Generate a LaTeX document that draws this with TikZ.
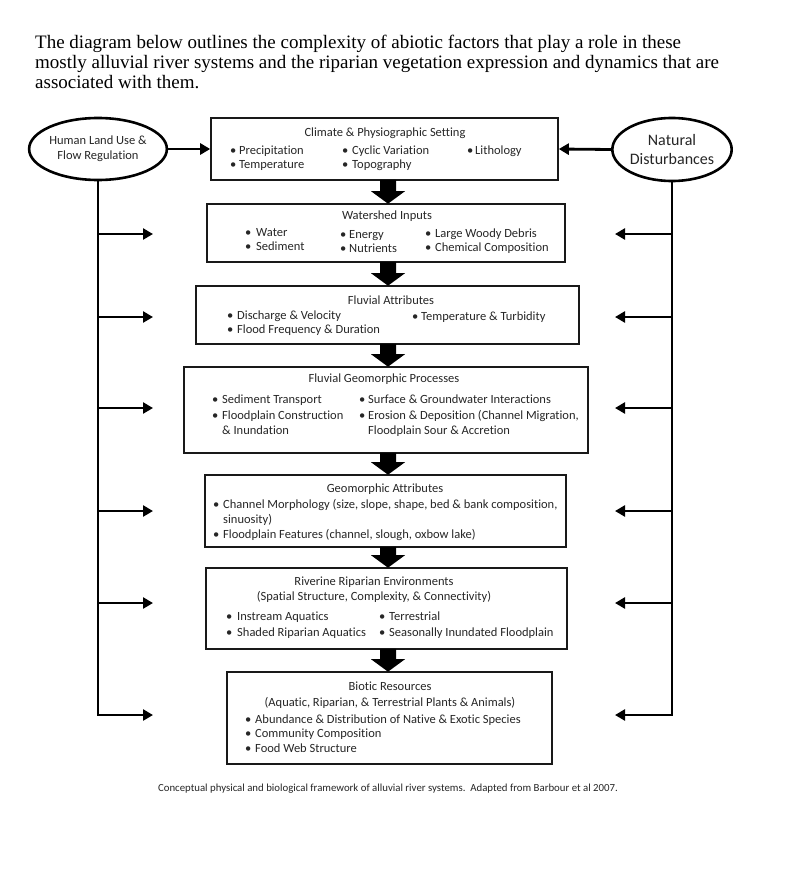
\documentclass[tikz,border=0pt]{standalone}
\usepackage{fontspec}
\setmainfont{Liberation Serif}
\newfontfamily\calfont[Ligatures=NoCommon]{Carlito}
\usetikzlibrary{shapes.geometric,arrows.meta,calc}
\tikzset{
  box/.style={draw=black!90, line width=1.6pt, inner sep=0pt, rectangle},
  ell/.style={draw=black, line width=2.6pt, ellipse, inner sep=0pt, minimum width=113pt, minimum height=62pt, align=center},
  txt/.style={anchor=west, inner sep=0pt, text height=9pt, text depth=2pt, font=\calfont\fontsize{12.5pt}{14pt}\selectfont, text=black!85},
  ttl/.style={anchor=center, inner sep=0pt, text height=9pt, text depth=2pt, font=\calfont\fontsize{12.5pt}{14pt}\selectfont, text=black!85},
  para/.style={anchor=west, inner sep=0pt, text height=13pt, text depth=4pt, font=\fontsize{19pt}{20pt}\selectfont},
  conn/.style={draw=black, line width=2.8pt, -{Triangle[length=10pt,width=11pt]}},
  blk/.style={fill=black}
}
\newcommand{\bitem}[5]{%
  \node[txt] (#1b) at (#2,#4) {\textbullet};
  \node[txt] (#1) at (#3,#4) {#5};}
\newcommand{\blockarrow}[2]{%
  \fill[blk] ($(#1.south -| ax)+(-8,-1)$) -- ($(#1.south -| ax)+(8,-1)$)
    -- ($(#2.north -| ax)+(8,-12)$) -- ($(#2.north -| ax)+(17,-12)$)
    -- ($(#2.north -| ax)+(0,0.5)$) -- ($(#2.north -| ax)+(-17,-12)$)
    -- ($(#2.north -| ax)+(-8,-12)$) -- cycle;}
\begin{document}
\begin{tikzpicture}[x=1pt,y=-1pt]
\useasboundingbox[fill=white] (0,0) rectangle (800,891);
\coordinate (ax) at (388,0);

% intro paragraph
\node[para] (p1) at (35,44) {The diagram below outlines the complexity of abiotic factors that play a role in these};
\node[para] (p2) at (35,64) {mostly alluvial river systems and the riparian vegetation expression and dynamics that are};
\node[para] (p3) at (35,84) {associated with them.};

% boxes
\node[box, minimum width=347pt, minimum height=62pt] (b1) at (384.5,149) {};
\node[box, minimum width=358pt, minimum height=58pt] (b2) at (386,233) {};
\node[box, minimum width=383pt, minimum height=58pt] (b3) at (387.5,315) {};
\node[box, minimum width=404pt, minimum height=86pt] (b4) at (386,410) {};
\node[box, minimum width=361pt, minimum height=72pt] (b5) at (385.5,511) {};
\node[box, minimum width=361pt, minimum height=81pt] (b6) at (386.5,608.5) {};
\node[box, minimum width=325pt, minimum height=92pt] (b7) at (389.5,718) {};

% box 1
\node[ttl] (t1) at (385,133) {Climate \& Physiographic Setting};
\bitem{i11}{230}{239}{151}{Precipitation}
\bitem{i12}{230}{239}{165}{Temperature}
\bitem{i13}{342}{352}{151}{Cyclic Variation}
\bitem{i14}{342}{352}{165}{Topography}
\bitem{i15}{467}{475}{151}{Lithology}

% box 2
\node[ttl] (t2) at (387,216) {Watershed Inputs};
\bitem{i21}{245}{256}{233}{Water}
\bitem{i22}{245}{256}{247}{Sediment}
\bitem{i23}{340}{349}{235}{Energy}
\bitem{i24}{340}{349}{249}{Nutrients}
\bitem{i25}{425}{435}{234}{Large Woody Debris}
\bitem{i26}{425}{435}{248}{Chemical Composition}

% box 3
\node[ttl] (t3) at (391,301) {Fluvial Attributes};
\bitem{i31}{227}{237}{316}{Discharge \& Velocity}
\bitem{i32}{227}{237}{330}{Flood Frequency \& Duration}
\bitem{i33}{412}{421}{317}{Temperature \& Turbidity}

% box 4
\node[ttl] (t4) at (384,379) {Fluvial Geomorphic Processes};
\bitem{i41}{212}{222}{400}{Sediment Transport}
\bitem{i42}{212}{222}{416}{Floodplain Construction}
\node[txt] (i43) at (222,431) {\& Inundation};
\bitem{i44}{359}{368}{400}{Surface \& Groundwater Interactions}
\bitem{i45}{359}{368}{416}{Erosion \& Deposition (Channel Migration,}
\node[txt] (i46) at (368,431) {Floodplain Sour \& Accretion};

% box 5
\node[ttl] (t5) at (385,489) {Geomorphic Attributes};
\bitem{i51}{213}{223}{505}{Channel Morphology (size, slope, shape, bed \& bank composition,}
\node[txt] (i52) at (223,520) {sinuosity)};
\bitem{i53}{213}{223}{535}{Floodplain Features (channel, slough, oxbow lake)};

% box 6
\node[ttl] (t6) at (374,582) {Riverine Riparian Environments};
\node[ttl] (t6b) at (374,597) {(Spatial Structure, Complexity, \& Connectivity)};
\bitem{i61}{226}{237}{617}{Instream Aquatics}
\bitem{i62}{226}{237}{633}{Shaded Riparian Aquatics}
\bitem{i63}{379}{389}{617}{Terrestrial}
\bitem{i64}{379}{389}{633}{Seasonally Inundated Floodplain}

% box 7
\node[ttl] (t7) at (390,687) {Biotic Resources};
\node[ttl] (t7b) at (390,703) {(Aquatic, Riparian, \& Terrestrial Plants \& Animals)};
\bitem{i71}{245}{255}{720}{Abundance \& Distribution of Native \& Exotic Species}
\bitem{i72}{245}{255}{734}{Community Composition}
\bitem{i73}{245}{255}{749}{Food Web Structure}

% block arrows
\blockarrow{b1}{b2}
\blockarrow{b2}{b3}
\blockarrow{b3}{b4}
\blockarrow{b4}{b5}
\blockarrow{b5}{b6}
\blockarrow{b6}{b7}

% ellipses
\node[ell, font=\calfont\fontsize{12.5pt}{15pt}\selectfont, text=black!85] (e1) at (98,149) {Human Land Use \&\\Flow Regulation};
\node[ell, minimum height=63pt, font=\calfont\fontsize{16pt}{19pt}\selectfont, text=black!85] (e2) at (672,149.5) {Natural\\Disturbances};

\draw[conn] (e1.east) -- (b1.west);
\draw[conn] (e2.west) -- (b1.east);

% branch tips
\coordinate (l1) at (153,234);
\coordinate (l2) at (153,317);
\coordinate (l3) at (153,408);
\coordinate (l4) at (153,511);
\coordinate (l5) at (153,603);
\coordinate (l6) at (153,715);
\coordinate (r1) at (615,234);
\coordinate (r2) at (615,317);
\coordinate (r3) at (615,408);
\coordinate (r4) at (615,511);
\coordinate (r5) at (615,603);
\coordinate (r6) at (615,715);

\draw[conn] (e1.south) -- (e1.south |- l6) -- (l6);
\draw[conn] (e2.south) -- (e2.south |- r6) -- (r6);
\foreach \k in {1,...,5}{
  \draw[conn] (e1.south |- l\k) -- (l\k);
  \draw[conn] (e2.south |- r\k) -- (r\k);
}

% caption
\node[anchor=center, inner sep=0pt, font=\calfont\fontsize{10.8pt}{12pt}\selectfont, text=black!85] (cap) at (388,789) {Conceptual physical and biological framework of alluvial river systems.\ \ Adapted from Barbour et al 2007.};
\end{tikzpicture}
\end{document}
